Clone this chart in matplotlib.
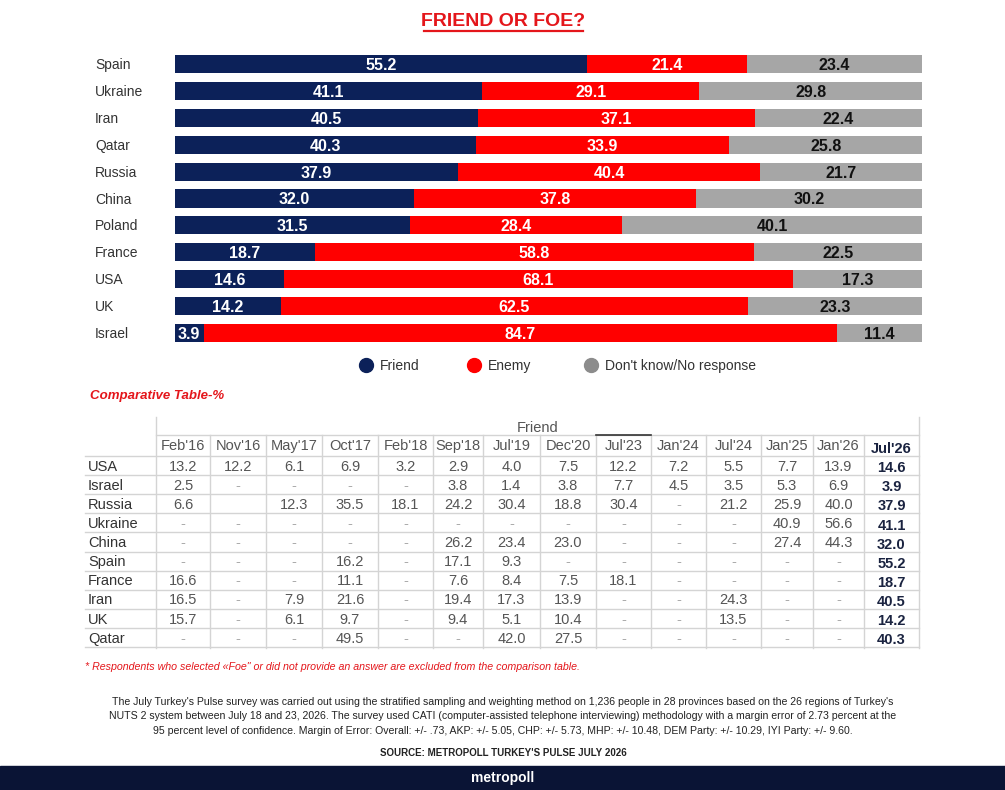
import matplotlib.pyplot as plt
import numpy as np

# Daten: Freund oder Feind (Jul'26)
countries = ["Spain", "Ukraine", "Iran", "Qatar", "Russia", "China", "Poland",
             "France", "USA", "UK", "Israel"]
friend = [55.2, 41.1, 40.5, 40.3, 37.9, 32.0, 31.5, 18.7, 14.6, 14.2, 3.9]
enemy = [21.4, 29.1, 37.1, 33.9, 40.4, 37.8, 28.4, 58.8, 68.1, 62.5, 84.7]
dont_know = [23.4, 29.8, 22.4, 25.8, 21.7, 30.2, 40.1, 22.5, 17.3, 23.3, 11.4]

# Vergleichstabelle (Friend-%), None = "-", "" = leer
periods = ["Feb'16", "Nov'16", "May'17", "Oct'17", "Feb'18", "Sep'18", "Jul'19",
           "Dec'20", "Jul'23", "Jan'24", "Jul'24", "Jan'25", "Jan'26", "Jul'26"]
table_countries = ["USA", "Israel", "Russia", "Ukraine", "China", "Spain",
                   "France", "Iran", "UK", "Qatar"]
usa = [13.2, 12.2, 6.1, 6.9, 3.2, 2.9, 4.0, 7.5, 12.2, 7.2, 5.5, 7.7, 13.9, 14.6]
israel = [2.5, None, None, None, None, 3.8, 1.4, 3.8, 7.7, 4.5, 3.5, 5.3, 6.9, 3.9]
russia = [6.6, "", 12.3, 35.5, 18.1, 24.2, 30.4, 18.8, 30.4, None, 21.2, 25.9, 40.0, 37.9]
ukraine = [None, None, None, None, None, None, None, None, None, None, None, 40.9, 56.6, 41.1]
china = [None, None, None, None, None, 26.2, 23.4, 23.0, None, None, None, 27.4, 44.3, 32.0]
spain = [None, None, None, 16.2, None, 17.1, 9.3, None, None, None, None, None, None, 55.2]
france = [16.6, None, None, 11.1, None, 7.6, 8.4, 7.5, 18.1, None, None, None, None, 18.7]
iran = [16.5, None, 7.9, 21.6, None, 19.4, 17.3, 13.9, None, None, 24.3, None, None, 40.5]
uk = [15.7, None, 6.1, 9.7, None, 9.4, 5.1, 10.4, None, None, 13.5, None, None, 14.2]
qatar = [None, None, None, 49.5, None, None, 42.0, 27.5, None, None, None, None, None, 40.3]
table_rows = [usa, israel, russia, ukraine, china, spain, france, iran, uk, qatar]

NAVY = "#0c2159"
RED = "#ff0000"
GRAY = "#a6a6a6"
W, H = 1005, 790
FONT = ["Liberation Sans", "DejaVu Sans"]
NARROW = ["Liberation Sans Narrow", "Liberation Sans", "DejaVu Sans"]

plt.rcParams['font.family'] = FONT

fig = plt.figure(figsize=(W / 100, H / 100), dpi=100)

# Hintergrund-Achse in Pixelkoordinaten
bg = fig.add_axes([0, 0, 1, 1])
bg.set_xlim(0, W)
bg.set_ylim(H, 0)
bg.axis("off")


def ctext(x, yc, s, size, **kw):
    # Text so setzen, dass die Grossbuchstaben um yc zentriert sind
    cap = 0.72 * size * 100 / 72
    return bg.text(x, yc + cap / 2, s, fontsize=size, va="baseline", **kw)


# Titel mit Unterstreichung
ctext(503, 19, "FRIEND OR FOE?", 14, color="#e4161b", fontweight="bold",
      family=NARROW, ha="center")
bg.plot([424, 583], [30.5, 30.5], color="#e4161b", lw=1.6)

# Balkendiagramm
row_h = 26.9
top = 64 - row_h / 2
ax = fig.add_axes([175 / W, 1 - (top + 11 * row_h) / H, (922 - 175) / W, 11 * row_h / H])
y = np.arange(len(countries))
f = np.array(friend)
e = np.array(enemy)
d = np.array(dont_know)
ax.barh(y, f, color=NAVY, height=0.67)
ax.barh(y, e, left=f, color=RED, height=0.67)
ax.barh(y, d, left=f + e, color=GRAY, height=0.67)
for i in range(len(countries)):
    ax.text(f[i] / 2 if f[i] > 8 else 0.4, y[i], f"{f[i]:.1f}", color="white",
            fontsize=11.5, fontweight="bold", ha="center" if f[i] > 8 else "left",
            va="center_baseline")
    ax.text(f[i] + e[i] / 2, y[i], f"{e[i]:.1f}", color="white",
            fontsize=11.5, fontweight="bold", ha="center", va="center_baseline")
    ax.text(f[i] + e[i] + d[i] / 2, y[i], f"{d[i]:.1f}", color="#111111",
            fontsize=11.5, fontweight="bold", ha="center", va="center_baseline")
    ctext(95, top + (i + 0.5) * row_h, countries[i], 10, color="#333333", ha="left")
ax.set_xlim(0, 100)
ax.set_ylim(len(countries) - 0.5, -0.5)
ax.axis("off")

# Legende
for x, col, lab in [(366, NAVY, "Friend"), (474, RED, "Enemy"), (591, "#8c8c8c", "Don't know/No response")]:
    bg.plot(x, 365, "o", color=col, markersize=10)
    ctext(x + 14, 365, lab, 10, color="#333333", ha="left")

# Tabelle
ctext(90, 394, "Comparative Table-%", 9.5, color="#e4161b",
      fontweight="bold", style="italic", ha="left")

col_edges = [156, 210, 266, 322, 378, 433, 483, 540, 596, 651, 706, 761, 813, 864, 919]
head_top, head_bot = 435, 456
rh = (647 - head_bot) / len(table_countries)
line_col = "#d4d4d4"

ctext((col_edges[0] + col_edges[-1]) / 2, 427, "Friend", 10.5, color="#555555", ha="center")
bg.plot([156, 156], [417, 648], color=line_col, lw=1)
bg.plot([919, 919], [417, 648], color=line_col, lw=1)
for xe in col_edges[1:-1]:
    bg.plot([xe, xe], [head_top, 648], color=line_col, lw=1)
bg.plot([156, 919], [head_top, head_top], color=line_col, lw=1)
bg.plot([596, 651], [head_top, head_top], color="#333333", lw=1.2)
bg.plot([85, 919], [head_bot, head_bot], color=line_col, lw=1)
for r in range(len(table_countries)):
    yl = head_bot + (r + 1) * rh
    bg.plot([85, 919], [yl, yl], color=line_col, lw=1)

for j, p in enumerate(periods):
    xc = (col_edges[j] + col_edges[j + 1]) / 2
    if j == len(periods) - 1:
        ctext(xc, 448, p, 10.5, color="#1a2340", fontweight="bold", ha="center")
    else:
        ctext(xc, 445, p, 10.5, color="#555555", ha="center")

for r, (name, vals) in enumerate(zip(table_countries, table_rows)):
    yc = head_bot + (r + 0.5) * rh
    ctext(88, yc, name, 10.5, color="#333333", ha="left")
    for j, v in enumerate(vals):
        xc = (col_edges[j] + col_edges[j + 1]) / 2
        if v == "":
            continue
        if j == len(vals) - 1:
            ctext(xc, yc + 1.5, f"{v:.1f}", 10.5, color="#1a2340", fontweight="bold", ha="center")
        elif v is None:
            ctext(xc, yc, "-", 10.5, color="#aaaaaa", ha="center")
        else:
            ctext(xc, yc, f"{v:.1f}", 10.5, color="#555555", ha="center")

# Fussnoten
ctext(85, 666, "* Respondents who selected \u00abFoe\" or did not provide an answer are excluded from the comparison table.",
      7.7, color="#e4161b", style="italic", family=NARROW, ha="left")

note = ["The July Turkey's Pulse survey was carried out using the stratified sampling and weighting method on 1,236 people in 28 provinces based on the 26 regions of Turkey's",
        "NUTS 2 system between July 18 and 23, 2026. The survey used CATI (computer-assisted telephone interviewing) methodology with a margin error of 2.73 percent at the",
        "95 percent level of confidence. Margin of Error: Overall: +/- .73, AKP: +/- 5.05, CHP: +/- 5.73, MHP: +/- 10.48, DEM Party: +/- 10.29, IYI Party: +/- 9.60."]
for k, line in enumerate(note):
    ctext(503, 701 + k * 14.5, line, 7.6, color="#222222", family=NARROW, ha="center")
ctext(503, 753, "SOURCE: METROPOLL TURKEY'S PULSE JULY 2026", 7.0, color="#222222",
      fontweight="bold", family=NARROW, ha="center")

# Fusszeile
bg.add_patch(plt.Rectangle((0, 766), W, 24, color="#0a1435"))
ctext(503, 777, "metropoll", 10, color="white", fontweight="bold", ha="center")

fig.savefig("out.png", dpi=100)
